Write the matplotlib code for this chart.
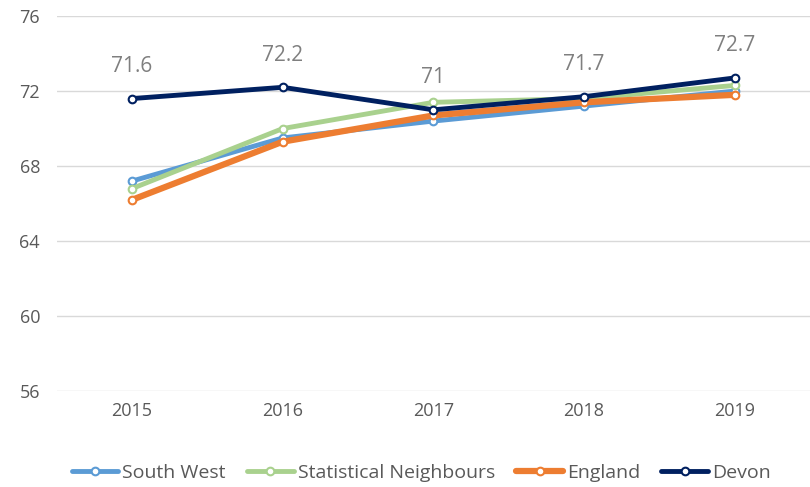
import matplotlib.pyplot as plt
import numpy as np

plt.rcParams['font.family'] = ['Open Sans', 'DejaVu Sans']

years = ['2015', '2016', '2017', '2018', '2019']
south_west = [67.2, 69.5, 70.4, 71.2, 72.0]
stat_neigh = [66.8, 70.0, 71.4, 71.6, 72.3]
england = [66.2, 69.3, 70.7, 71.4, 71.8]
devon = [71.6, 72.2, 71.0, 71.7, 72.7]
devon_labels = ['71.6', '72.2', '71', '71.7', '72.7']

fig = plt.figure(figsize=(8.1, 4.87), dpi=100)
ax = fig.add_axes([0.07, 0.197, 0.93, 0.770])

x = np.arange(len(years))
series = [
    ('South West', south_west, '#5B9BD5', 3.5),
    ('Statistical Neighbours', stat_neigh, '#A9D18E', 3.5),
    ('England', england, '#ED7D31', 4.5),
    ('Devon', devon, '#002060', 3.5),
]
for name, vals, col, lw in series:
    ax.plot(x, vals, color=col, lw=lw, marker='o', ms=5.5, mfc='white',
            mec=col, mew=1.5, label=name, solid_capstyle='round')

for xi, v, lab in zip(x, devon, devon_labels):
    ax.annotate(lab, (xi, v), xytext=(0, 23), textcoords='offset points',
                ha='center', va='center', fontsize=15, color='#7f7f7f')

ax.set_xlim(-0.5, 4.5)
ax.set_ylim(56, 76)
ax.set_yticks(range(56, 77, 4))
ax.set_xticks(x)
ax.set_xticklabels(years)
ax.grid(axis='y', color='#d9d9d9', lw=1)
ax.set_axisbelow(True)
for s in ['top', 'right', 'left', 'bottom']:
    ax.spines[s].set_visible(False)
ax.tick_params(length=0, labelsize=13, colors='#595959', pad=8)
ax.tick_params(axis='y', pad=12)

fig.legend(loc='lower center', ncol=4, bbox_to_anchor=(0.52, -0.025),
           frameon=False, fontsize=14, handlelength=2.4, columnspacing=1.1,
           handletextpad=0.2, labelcolor='#595959')

fig.savefig('out.png', dpi=100)
